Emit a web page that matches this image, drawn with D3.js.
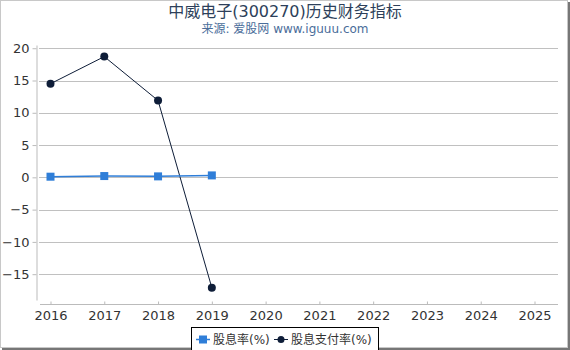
<!DOCTYPE html>
<html>
<head>
<meta charset="utf-8">
<script src="https://cdn.jsdelivr.net/npm/d3@7"></script>
<style>
  body { margin: 0; background: #fff; }
  svg text { font-family: "DejaVu Sans", "Noto Sans CJK SC", sans-serif; }
</style>
</head>
<body>
<div id="chart"></div>
<script>
// chart data
var years = [2016, 2017, 2018, 2019, 2020, 2021, 2022, 2023, 2024, 2025];
var dividendYears = [2016, 2017, 2018, 2019];
var dividendRate = [0.1, 0.2, 0.15, 0.3];      // 股息率(%)
var payoutRatio = [14.5, 18.7, 11.9, -17.1];   // 股息支付率(%)
var yTicks = [20, 15, 10, 5, 0, -5, -10, -15];
var seriesNames = ["股息率(%)", "股息支付率(%)"];

var W = 570, H = 350;
var svg = d3.select("#chart").append("svg").attr("width", W).attr("height", H);

// frame with shadow on right/bottom
svg.append("rect").attr("x", 0.5).attr("y", 0.5).attr("width", W - 3).attr("height", H - 3)
    .attr("fill", "#fff").attr("stroke", "#c8c8c8");
svg.append("rect").attr("x", W - 2).attr("y", 2).attr("width", 2).attr("height", H - 2).attr("fill", "#777");
svg.append("rect").attr("x", 2).attr("y", H - 2).attr("width", W - 2).attr("height", 2).attr("fill", "#777");

svg.append("text").attr("x", 285).attr("y", 17).attr("text-anchor", "middle")
    .attr("font-size", 16).attr("fill", "#2d3f5a").text("中威电子(300270)历史财务指标");
svg.append("text").attr("x", 285).attr("y", 33).attr("text-anchor", "middle")
    .attr("font-size", 12).attr("fill", "#4a6d9a").text("来源: 爱股网 www.iguuu.com");

var x = d3.scaleLinear().domain([2016, 2025]).range([50.5, 534.5]);
var y = d3.scaleLinear().domain([-19, 20.5]).range([300, 45]);

// gridlines
svg.append("g").selectAll("line").data(yTicks).enter().append("line")
    .attr("x1", 39).attr("x2", 558)
    .attr("y1", function (d) { return Math.round(y(d)) + 0.5; })
    .attr("y2", function (d) { return Math.round(y(d)) + 0.5; })
    .attr("stroke", "#c0c0c0").attr("stroke-width", 1);

// y axis
var yAxis = svg.append("g").attr("transform", "translate(36.5,0)")
    .call(d3.axisLeft(y).tickValues(yTicks).tickSize(4).tickSizeOuter(0).tickPadding(3));
yAxis.select(".domain").attr("stroke", "#bbb");
yAxis.selectAll(".tick line").attr("stroke", "#bbb");
yAxis.selectAll(".tick text").attr("font-size", 13).attr("fill", "#333")
    .attr("font-family", "DejaVu Sans");

// x axis
var xAxis = svg.append("g").attr("transform", "translate(0,304.5)")
    .call(d3.axisBottom(x).tickValues(years).tickFormat(d3.format("d")).tickSize(-3).tickSizeOuter(0).tickPadding(6));
xAxis.select(".domain").attr("d", "M40,0H558").attr("stroke", "#bbb");
xAxis.selectAll(".tick line").attr("stroke", "#bbb");
xAxis.selectAll(".tick text").attr("font-size", 13).attr("fill", "#333")
    .attr("font-family", "DejaVu Sans");

var blue = "#2f7ed8", navy = "#0e1d38";
var line = d3.line().x(function (d) { return x(d[0]); }).y(function (d) { return y(d[1]); });

var payoutData = dividendYears.map(function (d, i) { return [d, payoutRatio[i]]; });
var rateData = dividendYears.map(function (d, i) { return [d, dividendRate[i]]; });

svg.append("path").datum(payoutData).attr("d", line).attr("fill", "none")
    .attr("stroke", navy).attr("stroke-width", 1);
svg.append("g").selectAll("circle").data(payoutData).enter().append("circle")
    .attr("cx", function (d) { return x(d[0]); }).attr("cy", function (d) { return y(d[1]); })
    .attr("r", 4).attr("fill", navy);

svg.append("path").datum(rateData).attr("d", line).attr("fill", "none")
    .attr("stroke", blue).attr("stroke-width", 1.5);
svg.append("g").selectAll("rect").data(rateData).enter().append("rect")
    .attr("x", function (d) { return x(d[0]) - 4; }).attr("y", function (d) { return y(d[1]) - 4; })
    .attr("width", 8).attr("height", 8).attr("fill", blue);

// legend
var lg = svg.append("g");
lg.append("rect").attr("x", 191.5).attr("y", 327.5).attr("width", 187).attr("height", 24)
    .attr("fill", "#fff").attr("stroke", "#000");
lg.append("line").attr("x1", 196).attr("x2", 210).attr("y1", 339.5).attr("y2", 339.5)
    .attr("stroke", blue).attr("stroke-width", 1.5);
lg.append("rect").attr("x", 199).attr("y", 335.5).attr("width", 8).attr("height", 8).attr("fill", blue);
lg.append("text").attr("x", 213).attr("y", 344).attr("font-size", 12).attr("fill", "#333").text(seriesNames[0]);
lg.append("line").attr("x1", 274).attr("x2", 288).attr("y1", 339.5).attr("y2", 339.5)
    .attr("stroke", navy).attr("stroke-width", 1);
lg.append("circle").attr("cx", 281).attr("cy", 339.5).attr("r", 3.5).attr("fill", navy);
lg.append("text").attr("x", 291).attr("y", 344).attr("font-size", 12).attr("fill", "#333").text(seriesNames[1]);
</script>
</body>
</html>
